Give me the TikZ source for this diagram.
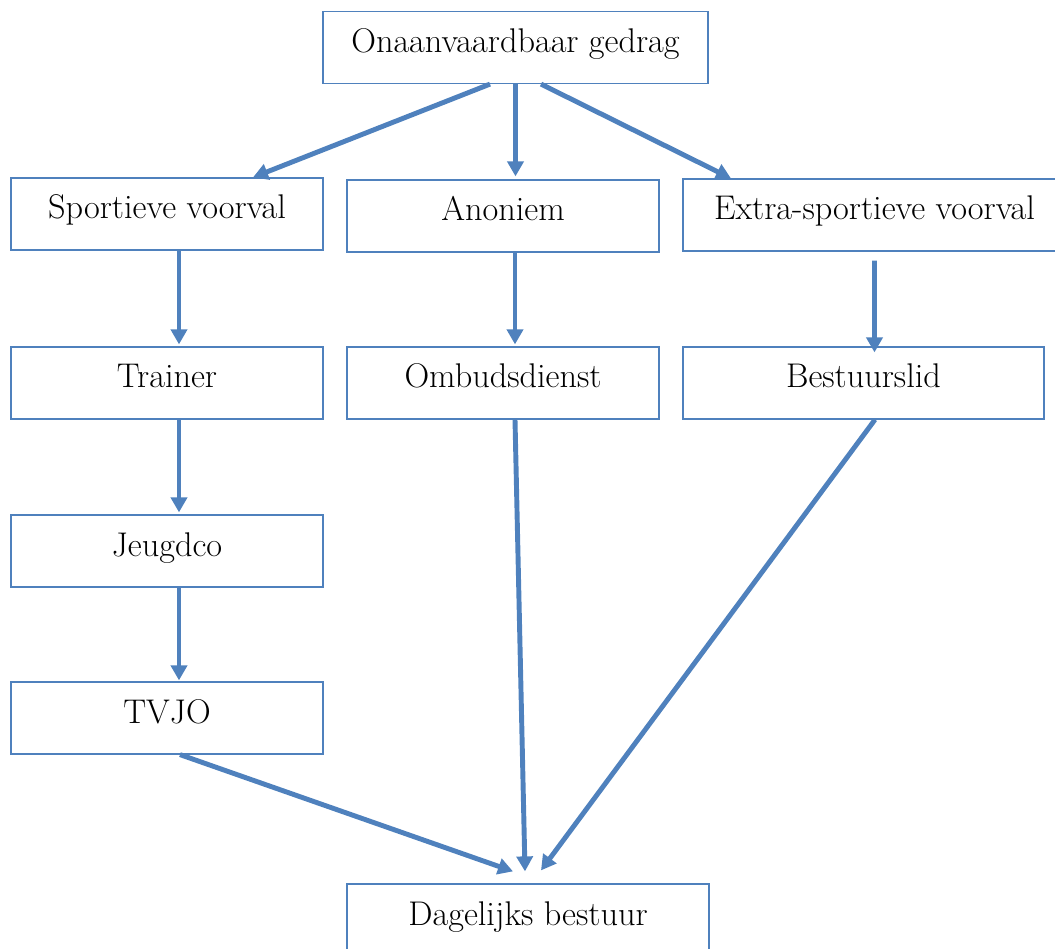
\documentclass[tikz,border=0pt]{standalone}
\usepackage{tikz}
\usetikzlibrary{arrows.meta}
\definecolor{wordblue}{RGB}{79,129,189}

\begin{document}
\begin{tikzpicture}[x=0.02cm, y=-0.02cm, inner sep=1mm,
  >={Triangle[width=0.32cm,length=0.3cm]},
  box/.style={rectangle, draw=wordblue, line width=0.7pt, minimum height=1.44cm,
    text height=0.52cm, text depth=0.32cm, font=\fontsize{19.5}{23}\selectfont},
  arr/.style={->, draw=wordblue, line width=2.8pt}]
\useasboundingbox (0,0) rectangle (1055,949);
\clip (0,0) rectangle (1055,949);
\node (top) at (515.5,47.5) [box, minimum width=7.7cm] {Onaanvaardbaar gedrag};
\node (sport) at (167,214) [box, minimum width=6.24cm] {Sportieve voorval};
\node (anon) at (503,216) [box, minimum width=6.24cm] {Anoniem};
\node (extra) at (874.5,215) [box, minimum width=7.66cm] {Extra-sportieve voorval};
\node (trainer) at (167,383) [box, minimum width=6.24cm] {Trainer};
\node (ombuds) at (503,383) [box, minimum width=6.24cm] {Ombudsdienst};
\node (bestuur) at (863.5,383) [box, minimum width=7.22cm] {Bestuurslid};
\node (jeugd) at (167,551) [box, minimum width=6.24cm] {Jeugdco};
\node (tvjo) at (167,718) [box, minimum width=6.24cm] {TVJO};
\node (db) at (528,920) [box, minimum width=7.24cm] {Dagelijks bestuur};
\draw[arr] ([xshift=-0.51cm]top.south) -- ([xshift=1.72cm]sport.north);
\draw[arr] (top.south) -- ([xshift=0.25cm,yshift=0.06cm]anon.north);
\draw[arr] ([xshift=0.51cm]top.south) -- ([xshift=-2.87cm]extra.north);
\draw[arr] ([xshift=0.24cm]sport.south) -- ([xshift=0.24cm,yshift=0.04cm]trainer.north);
\draw[arr] ([xshift=0.24cm]trainer.south) -- ([xshift=0.24cm,yshift=0.04cm]jeugd.north);
\draw[arr] ([xshift=0.24cm]jeugd.south) -- ([xshift=0.24cm,yshift=0.02cm]tvjo.north);
\draw[arr] ([xshift=0.24cm]anon.south) -- ([xshift=0.24cm,yshift=0.04cm]ombuds.north);
\draw[arr] ([yshift=-0.18cm]extra.south) -- ([xshift=0.22cm,yshift=-0.12cm]bestuur.north);
\draw[arr] ([xshift=0.24cm]ombuds.south) -- ([xshift=-0.06cm,yshift=0.24cm]db.north);
\draw[arr] ([xshift=0.23cm]bestuur.south) -- ([xshift=0.26cm,yshift=0.26cm]db.north);
\draw[arr] ([xshift=0.26cm]tvjo.south) -- ([xshift=-0.3cm,yshift=0.24cm]db.north);
\end{tikzpicture}
\end{document}
